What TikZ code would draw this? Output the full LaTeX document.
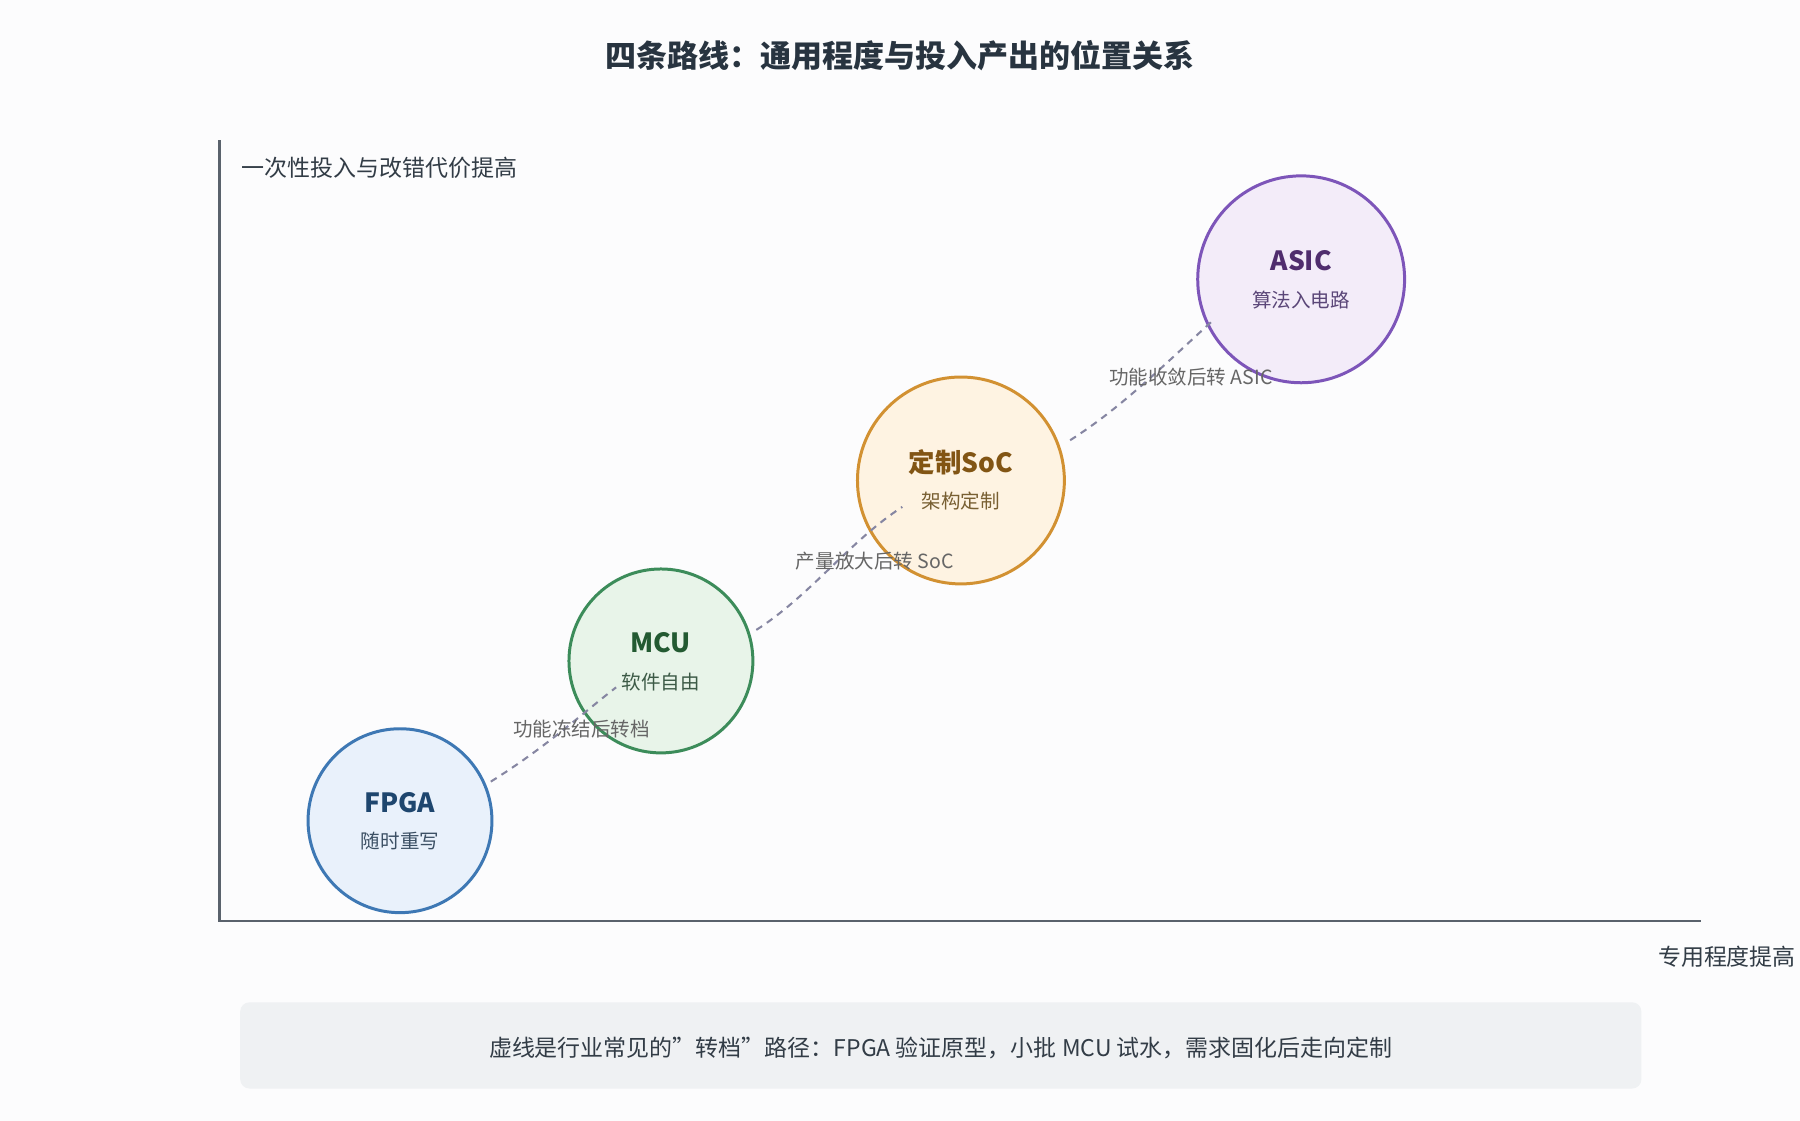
\documentclass[tikz,border=0pt]{standalone}
\usepackage{fontspec}
\setmainfont{Noto Sans CJK SC}
\begin{document}
\begin{tikzpicture}[x=1pt,y=-1pt,
  circ/.style={circle,line width=2.6pt,minimum size=#1,inner sep=0pt},
  conn/.style={draw=gray!70!blue!60!black!60,line width=1.8pt,dash pattern=on 6pt off 5pt},
  lbl/.style={text=gray!80!black,font=\fontsize{17}{20}\selectfont},
  ttl/.style={font=\fontsize{23}{26}\selectfont\bfseries},
  sub/.style={font=\fontsize{17}{20}\selectfont}]
\fill[fill={rgb,255:red,252;green,252;blue,253}] (0,0) rectangle (1566,975);
\useasboundingbox (0,0) rectangle (1566,975);
\definecolor{ax}{RGB}{90,98,108}
\node[font=\fontsize{27}{30}\selectfont\bfseries,text={rgb,255:red,40;green,52;blue,64}] (title) at (783,48) {四条路线：通用程度与投入产出的位置关系};
\coordinate (o) at (191,801);
\coordinate (yt) at (191,122);
\coordinate (xt) at (1480,801);
\draw[ax,line width=2pt] (yt) -- (o) -- (xt);
\node[anchor=west,font=\fontsize{20}{24}\selectfont,text={rgb,255:red,50;green,60;blue,70}] (ylab) at (207,146) {一次性投入与改错代价提高};
\node[anchor=east,font=\fontsize{20}{24}\selectfont,text={rgb,255:red,50;green,60;blue,70}] (xlab) at (1566,832) {专用程度提高};
% circles
\node[circ=160pt,draw={rgb,255:red,62;green,120;blue,180},fill={rgb,255:red,233;green,241;blue,251}] (fpga) at (348,714) {};
\node[circ=160pt,draw={rgb,255:red,60;green,140;blue,90},fill={rgb,255:red,232;green,244;blue,233}] (mcu) at (575,575) {};
\node[circ=180pt,draw={rgb,255:red,210;green,145;blue,50},fill={rgb,255:red,254;green,243;blue,226}] (soc) at (836,418) {};
\node[circ=180pt,draw={rgb,255:red,125;green,85;blue,185},fill={rgb,255:red,243;green,236;blue,249}] (asic) at (1132,243) {};
\node[ttl,text={rgb,255:red,30;green,70;blue,110}] (t1) at (348,698) {FPGA};
\node[sub,text={rgb,255:red,60;green,80;blue,100}] (s1) at (348,732) {随时重写};
\node[ttl,text={rgb,255:red,35;green,90;blue,50}] (t2) at (575,559) {MCU};
\node[sub,text={rgb,255:red,60;green,90;blue,70}] (s2) at (575,593) {软件自由};
\node[ttl,text={rgb,255:red,130;green,85;blue,20}] (t3) at (836,402) {定制SoC};
\node[sub,text={rgb,255:red,120;green,95;blue,50}] (s3) at (836,436) {架构定制};
\node[ttl,text={rgb,255:red,80;green,45;blue,110}] (t4) at (1132,227) {ASIC};
\node[sub,text={rgb,255:red,90;green,70;blue,120}] (s4) at (1132,261) {算法入电路};
% connectors
\coordinate (a1) at (427,680); \coordinate (b1) at (536,598);
\coordinate (a2) at (658,548); \coordinate (b2) at (785,441);
\coordinate (a3) at (931,383); \coordinate (b3) at (1055,279);
\draw[conn] (a1) .. controls (475,650) and (505,622) .. (b1);
\draw[conn] (a2) .. controls (705,518) and (740,470) .. (b2);
\draw[conn] (a3) .. controls (975,355) and (1010,320) .. (b3);
\node[lbl] (l1) at (506,634) {功能冻结后转档};
\node[lbl] (l2) at (761,488) {产量放大后转 SoC};
\node[lbl] (l3) at (1036,328) {功能收敛后转 ASIC};
% footer
\node[draw=none,fill={rgb,255:red,239;green,241;blue,243},rounded corners=8pt,minimum width=1219pt,minimum height=75pt] (foot) at (818.5,909.5) {};
\node[font=\fontsize{20}{24}\selectfont,text={rgb,255:red,50;green,60;blue,70}] (ftxt) at (818.5,912) {虚线是行业常见的"转档"路径：FPGA 验证原型，小批 MCU 试水，需求固化后走向定制};
\end{tikzpicture}
\end{document}
